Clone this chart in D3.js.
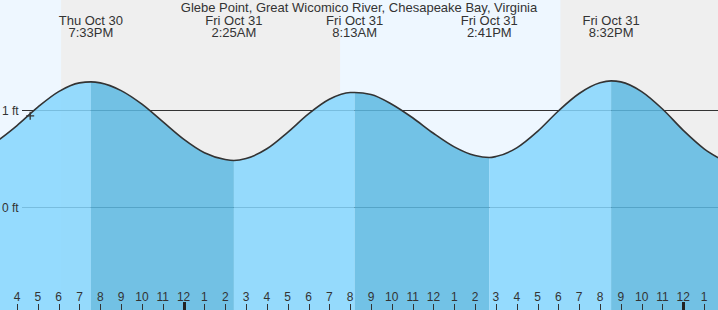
<!DOCTYPE html>
<html>
<head>
<meta charset="utf-8">
<script src="https://cdn.jsdelivr.net/npm/d3@7"></script>
<style>
  body { margin: 0; background: #fff; }
  svg { display: block; font-family: "Liberation Sans", Arial, sans-serif; }
</style>
</head>
<body>
<div id="chart"></div>
<script>
// Tide heights (ft), hourly plus the extremes
const tideTimes = [
  "2025-10-30T15:00", "2025-10-30T16:00", "2025-10-30T17:00", "2025-10-30T18:00",
  "2025-10-30T19:00", "2025-10-30T19:33", "2025-10-30T20:00", "2025-10-30T21:00",
  "2025-10-30T22:00", "2025-10-30T23:00", "2025-10-31T00:00", "2025-10-31T01:00",
  "2025-10-31T02:00", "2025-10-31T02:25", "2025-10-31T03:00", "2025-10-31T04:00",
  "2025-10-31T05:00", "2025-10-31T06:00", "2025-10-31T07:00", "2025-10-31T08:00",
  "2025-10-31T08:13", "2025-10-31T09:00", "2025-10-31T10:00", "2025-10-31T11:00",
  "2025-10-31T12:00", "2025-10-31T13:00", "2025-10-31T14:00", "2025-10-31T14:41",
  "2025-10-31T15:00", "2025-10-31T16:00", "2025-10-31T17:00", "2025-10-31T18:00",
  "2025-10-31T19:00", "2025-10-31T20:00", "2025-10-31T20:32", "2025-10-31T21:00",
  "2025-10-31T22:00", "2025-10-31T23:00", "2025-11-01T00:00", "2025-11-01T01:00",
  "2025-11-01T02:00"
];
const tideHeights = [
  0.67, 0.84, 1.03, 1.19,
  1.28, 1.29, 1.28, 1.20,
  1.06, 0.88, 0.70, 0.56,
  0.49, 0.48, 0.50, 0.60,
  0.77, 0.96, 1.11, 1.18,
  1.18, 1.16, 1.06, 0.92,
  0.76, 0.62, 0.53, 0.51,
  0.52, 0.61, 0.78, 0.99,
  1.17, 1.28, 1.30, 1.29,
  1.19, 1.01, 0.79, 0.60,
  0.47
];

// High / low events shown along the top
const eventTimes = ["2025-10-30T19:33", "2025-10-31T02:25", "2025-10-31T08:13", "2025-10-31T14:41", "2025-10-31T20:32"];
const eventTypes = ["H", "L", "H", "L", "H"];
const eventDays = ["Thu Oct 30", "Fri Oct 31", "Fri Oct 31", "Fri Oct 31", "Fri Oct 31"];
const eventClock = ["7:33PM", "2:25AM", "8:13AM", "2:41PM", "8:32PM"];

// Daylight periods
const dayStarts = ["2025-10-30T15:11", "2025-10-31T07:31"];
const dayEnds = ["2025-10-30T18:07", "2025-10-31T18:06"];

const gridLevels = [0, 1];
const gridLabels = ["0 ft", "1 ft"];
const nowPoint = ["2025-10-30T16:38", 0.94];

const title = "Glebe Point, Great Wicomico River, Chesapeake Bay, Virginia";

const width = 718;
const height = 310;
const parse = d3.timeParse("%Y-%m-%dT%H:%M");

const x = d3.scaleTime()
  .domain([parse("2025-10-30T15:11"), parse("2025-11-01T01:40")])
  .range([0, width]);
const y = d3.scaleLinear().domain([0, 1]).range([207, 110]);

const tide = tideTimes.map((t, i) => ({ t: parse(t), h: tideHeights[i] }));

const svg = d3.select("#chart").append("svg")
  .attr("width", width)
  .attr("height", height);

// night background then daylight bands
svg.append("rect").attr("width", width).attr("height", height).attr("fill", "#efefef");
svg.selectAll(".day")
  .data(dayStarts.map((s, i) => [parse(s), parse(dayEnds[i])]))
  .enter().append("rect")
  .attr("x", d => x(d[0]))
  .attr("width", d => x(d[1]) - x(d[0]))
  .attr("y", 0)
  .attr("height", height)
  .attr("fill", "#eef7ff");

// ft reference lines (the water is drawn over them)
gridLevels.forEach(v => {
  const yy = Math.round(y(v)) + 0.5;
  svg.append("line")
    .attr("x1", 22).attr("x2", width)
    .attr("y1", yy).attr("y2", yy)
    .attr("stroke", "#333").attr("stroke-width", 1);
});

// water: clip to the tide area, colour by rising / falling
const area = d3.area()
  .x(d => x(d.t))
  .y0(height)
  .y1(d => y(d.h))
  .curve(d3.curveMonotoneX);

svg.append("clipPath").attr("id", "water")
  .append("path").attr("d", area(tide));

const edges = [x.domain()[0], ...eventTimes.map(parse), x.domain()[1]];
const bands = [];
for (let i = 0; i < edges.length - 1; i++) {
  // before a high the tide is rising
  const nextType = i < eventTypes.length ? eventTypes[i] : (eventTypes[i - 1] === "H" ? "L" : "H");
  bands.push({ a: edges[i], b: edges[i + 1], rising: nextType === "H" });
}

svg.append("g").attr("clip-path", "url(#water)")
  .selectAll("rect")
  .data(bands)
  .enter().append("rect")
  .attr("x", d => x(d.a))
  .attr("width", d => x(d.b) - x(d.a))
  .attr("y", 0)
  .attr("height", height)
  .attr("fill", d => d.rising ? "#85d6fe" : "#5cb8e2")
  .attr("fill-opacity", 0.85);

// ft labels on top of the water
gridLevels.forEach((v, i) => {
  const yy = Math.round(y(v)) + 0.5;
  svg.append("text")
    .attr("x", 2).attr("y", yy + 4)
    .attr("font-size", 12).attr("fill", "#333")
    .text(gridLabels[i]);
});

// tide line
const line = d3.line()
  .x(d => x(d.t))
  .y(d => y(d.h))
  .curve(d3.curveMonotoneX);

svg.append("path")
  .attr("d", line(tide))
  .attr("fill", "none")
  .attr("stroke", "#333")
  .attr("stroke-width", 1.6);

// current time marker
const nx = x(parse(nowPoint[0]));
const ny = y(nowPoint[1]);
svg.append("path")
  .attr("d", `M${nx - 4},${ny}H${nx + 4}M${nx},${ny - 4}V${ny + 4}`)
  .attr("stroke", "#333").attr("stroke-width", 1.3);

// title and event labels
svg.append("text")
  .attr("x", width / 2).attr("y", 12)
  .attr("text-anchor", "middle")
  .attr("font-size", 13).attr("fill", "#333")
  .text(title);

const ev = svg.selectAll(".ev")
  .data(eventTimes.map((t, i) => ({ t: parse(t), day: eventDays[i], clock: eventClock[i] })))
  .enter().append("g");
ev.append("text")
  .attr("x", d => x(d.t)).attr("y", 24.5)
  .attr("text-anchor", "middle")
  .attr("font-size", 13).attr("fill", "#333")
  .text(d => d.day);
ev.append("text")
  .attr("x", d => x(d.t)).attr("y", 36.5)
  .attr("text-anchor", "middle")
  .attr("font-size", 13).attr("fill", "#333")
  .text(d => d.clock);

// hour ticks along the bottom
const hours = x.ticks(d3.timeHour.every(1));
const fmt = d3.timeFormat("%-I");
const axis = svg.append("g");
axis.selectAll("line")
  .data(hours)
  .enter().append("line")
  .attr("x1", d => Math.round(x(d)) + 0.5)
  .attr("x2", d => Math.round(x(d)) + 0.5)
  .attr("y1", d => d.getHours() === 0 ? 302 : 304)
  .attr("y2", height)
  .attr("stroke", d => d.getHours() === 0 ? "#222" : "#333")
  .attr("stroke-width", d => d.getHours() === 0 ? 3 : 1);
axis.selectAll("text")
  .data(hours)
  .enter().append("text")
  .attr("x", d => x(d))
  .attr("y", 301)
  .attr("text-anchor", "middle")
  .attr("font-size", 12).attr("fill", "#333")
  .text(d => fmt(d));
</script>
</body>
</html>
